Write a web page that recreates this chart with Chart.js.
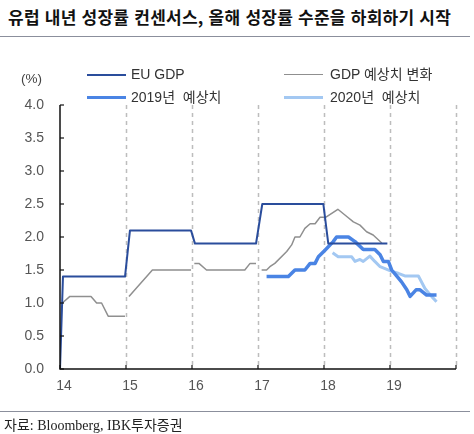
<!DOCTYPE html>
<html lang="ko">
<head>
<meta charset="UTF-8">
<title>유럽 내년 성장률 컨센서스</title>
<script src="https://cdn.jsdelivr.net/npm/chart.js@4.4.1/dist/chart.umd.min.js"></script>
<style>
  body { margin: 0; width: 474px; height: 434px; position: relative; overflow: hidden; background: #fff;
         font-family: "Liberation Sans", Arial, "Noto Sans CJK KR", sans-serif; color: #333; }
  #title { position: absolute; left: 8px; top: 4px; font: bold 17px "Noto Sans CJK KR", sans-serif; letter-spacing: 0.25px; color: #111; white-space: nowrap; }
  .rule { position: absolute; left: 0; width: 470px; height: 0; border-top: 1px solid #8b8f9c; }
  #unit { position: absolute; left: 21px; top: 71px; font-size: 13.5px; color: #444; }
  .lg { position: absolute; font-size: 14px; white-space: pre; color: #333; line-height: 16px; }
  .lg i { position: absolute; left: 0; top: 8px; width: 39px; height: 0; }
  .lg span { position: absolute; left: 44px; top: 0; }
  #source { position: absolute; left: 4px; top: 414px; font-size: 14px; white-space: nowrap; color: #222;
            font-family: "Liberation Serif", "DejaVu Serif", "Noto Sans CJK KR", serif; }
  #wrap { position: absolute; left: 0; top: 0; width: 474px; height: 434px; }
</style>
</head>
<body>
<div id="title">유럽 내년 성장률 컨센서스, 올해 성장률 수준을 하회하기 시작</div>
<div class="rule" style="top:36px"></div>
<div id="wrap"><canvas id="myChart"></canvas></div>
<div id="unit">(%)</div>
<div class="lg" style="left:87px;top:66px"><i style="border-top:2px solid #2a4d9c"></i><span>EU GDP</span></div>
<div class="lg" style="left:87px;top:89px"><i style="border-top:3px solid #4a84e4;top:7px"></i><span>2019년  예상치</span></div>
<div class="lg" style="left:284px;top:66px"><i style="border-top:1.5px solid #8f8f8f"></i><span style="left:46px">GDP 예상치 변화</span></div>
<div class="lg" style="left:284px;top:89px"><i style="border-top:3px solid #a3c8f2;top:7px"></i><span style="left:46px">2020년  예상치</span></div>
<div class="rule" style="top:411px"></div>
<div id="source">자료: Bloomberg, IBK투자증권</div>
<script>
    // 축 눈금
    const yearTicks = [14, 15, 16, 17, 18, 19, 20];
    const yMin = 0, yMax = 4, yStep = 0.5;

    // EU GDP (연도 소수 표기)
    const euX = [14.0, 14.045, 14.985, 15.06, 15.985, 16.045, 16.97, 17.065, 17.99, 18.065, 18.96];
    const euY = [0, 1.4, 1.4, 2.1, 2.1, 1.9, 1.9, 2.5, 2.5, 1.9, 1.9];

    // GDP 예상치 변화 (null = 끊김)
    const greyX = [14.035, 14.15, 14.47, 14.555, 14.63, 14.73, 14.985, 15.015, 15.045, 15.135, 15.4, 15.985, 16.01,
                   16.035, 16.105, 16.22, 16.8, 16.88, 16.97, 17.01, 17.055, 17.13, 17.18, 17.255, 17.435, 17.51,
                   17.56, 17.635, 17.71, 17.79, 17.865, 17.94, 18.03, 18.21, 18.345, 18.445, 18.545, 18.645, 18.745, 18.875];
    const greyY = [1.0, 1.1, 1.1, 1.0, 1.0, 0.8, 0.8, null, 1.1, 1.2, 1.5, 1.5, null,
                   1.6, 1.6, 1.5, 1.5, 1.6, 1.6, null, 1.5, 1.5, 1.55, 1.6, 1.78, 1.88,
                   2.0, 2.0, 2.13, 2.2, 2.2, 2.3, 2.3, 2.42, 2.31, 2.23, 2.18, 2.08, 2.03, 1.91];

    // 2019년 예상치
    const f2019X = [17.13, 17.46, 17.56, 17.71, 17.79, 17.865, 17.915, 18.015, 18.14, 18.19, 18.37, 18.47, 18.595,
                    18.77, 18.85, 18.9, 18.975, 19.025, 19.1, 19.175, 19.255, 19.305, 19.395, 19.455, 19.555, 19.705];
    const f2019Y = [1.4, 1.4, 1.5, 1.5, 1.6, 1.6, 1.7, 1.8, 1.93, 2.0, 2.0, 1.93, 1.81,
                    1.81, 1.73, 1.63, 1.63, 1.5, 1.41, 1.32, 1.2, 1.1, 1.2, 1.2, 1.12, 1.12];

    // 2020년 예상치
    const f2020X = [18.13, 18.215, 18.42, 18.47, 18.545, 18.595, 18.695, 18.77, 18.85, 18.925, 19.025, 19.125,
                    19.225, 19.43, 19.53, 19.63, 19.705];
    const f2020Y = [1.76, 1.7, 1.7, 1.63, 1.66, 1.63, 1.71, 1.63, 1.55, 1.52, 1.48, 1.45,
                    1.41, 1.41, 1.22, 1.1, 1.02];

    function pts(xs, ys) {
        return xs.map((x, i) => ({ x: x, y: ys[i] }));
    }

    // 점선 연도 구분선 + 안쪽 눈금 축
    const axisPlugin = {
        id: 'axisPlugin',
        beforeDatasetsDraw(chart) {
            const { ctx, chartArea: a, scales: { x } } = chart;
            ctx.save();
            ctx.strokeStyle = '#bdbdbd';
            ctx.lineWidth = 1.5;
            ctx.setLineDash([4, 4]);
            yearTicks.forEach(v => {
                if (v <= yearTicks[0]) return;
                const px = Math.round(x.getPixelForValue(v)) + 0.5;
                ctx.beginPath();
                ctx.moveTo(px, a.top);
                ctx.lineTo(px, a.bottom);
                ctx.stroke();
            });
            ctx.restore();
        },
        afterDatasetsDraw(chart) {
            const { ctx, chartArea: a, scales: { x, y } } = chart;
            ctx.save();
            ctx.strokeStyle = '#111';
            ctx.lineWidth = 1.5;
            ctx.beginPath();
            ctx.moveTo(a.left, a.top);
            ctx.lineTo(a.left, a.bottom);
            ctx.lineTo(a.right, a.bottom);
            ctx.stroke();
            ctx.lineWidth = 1.2;
            for (let v = yMin; v <= yMax; v += yStep) {
                const py = y.getPixelForValue(v);
                ctx.beginPath();
                ctx.moveTo(a.left, py);
                ctx.lineTo(a.left + 4, py);
                ctx.stroke();
            }
            yearTicks.forEach(v => {
                const px = x.getPixelForValue(v);
                ctx.beginPath();
                ctx.moveTo(px, a.bottom);
                ctx.lineTo(px, a.bottom - 4);
                ctx.stroke();
            });
            ctx.restore();
        }
    };

    window.onload = function() {
        const ctx = document.getElementById('myChart').getContext('2d');
        new Chart(ctx, {
            type: 'line',
            data: {
                datasets: [
                    { label: 'EU GDP', data: pts(euX, euY), borderColor: '#2a4d9c', borderWidth: 2, order: 1 },
                    { label: '2019년 예상치', data: pts(f2019X, f2019Y), borderColor: '#4a84e4', borderWidth: 3.5, order: 2 },
                    { label: '2020년 예상치', data: pts(f2020X, f2020Y), borderColor: '#a3c8f2', borderWidth: 3, order: 3 },
                    { label: 'GDP 예상치 변화', data: pts(greyX, greyY), borderColor: '#8f8f8f', borderWidth: 1.5, order: 4 }
                ]
            },
            options: {
                responsive: true,
                maintainAspectRatio: false,
                animation: false,
                layout: { padding: { top: 105, right: 18, bottom: 35, left: 0 } },
                elements: {
                    point: { radius: 0 },
                    line: { tension: 0, fill: false, borderJoinStyle: 'round', borderCapStyle: 'butt' }
                },
                spanGaps: false,
                plugins: { legend: { display: false }, tooltip: { enabled: false } },
                scales: {
                    x: {
                        type: 'linear',
                        min: yearTicks[0],
                        max: yearTicks[yearTicks.length - 1],
                        afterFit: s => { s.height = 30; },
                        afterBuildTicks: s => { s.ticks = yearTicks.map(v => ({ value: v })); },
                        grid: { display: false, drawTicks: false },
                        border: { display: false },
                        ticks: {
                            padding: 9,
                            labelOffset: 4,
                            maxRotation: 0,
                            color: '#555',
                            font: { family: '"Liberation Sans", Arial, sans-serif', size: 14 },
                            callback: v => (v < yearTicks[yearTicks.length - 1] ? String(v) : '')
                        }
                    },
                    y: {
                        min: yMin,
                        max: yMax,
                        afterFit: s => { s.width = 60; },
                        grid: { display: false, drawTicks: false },
                        border: { display: false },
                        ticks: {
                            stepSize: yStep,
                            padding: 16,
                            color: '#555',
                            font: { family: '"Liberation Sans", Arial, sans-serif', size: 14 },
                            callback: v => v.toFixed(1)
                        }
                    }
                }
            },
            plugins: [axisPlugin]
        });
    };
</script>
</body>
</html>
